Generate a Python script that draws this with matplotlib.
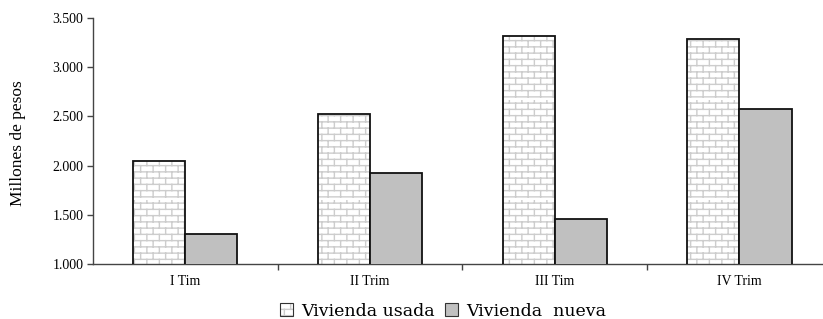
import warnings
import numpy as np
import matplotlib
matplotlib.use("Agg")
import matplotlib.pyplot as plt
import matplotlib.hatch as mhatch
from matplotlib.path import Path
from matplotlib.patches import Patch
from matplotlib.ticker import FuncFormatter, FixedLocator

warnings.filterwarnings("ignore")

# ---- data ----
categories = ["I Tim", "II Trim", "III Tim", "IV Trim"]
usada = [2050, 2525, 3320, 3290]
nueva = [1300, 1925, 1460, 2575]
series_names = ["Vivienda usada", "Vivienda  nueva"]
yticks = [1000, 1500, 2000, 2500, 3000, 3500]


# ---- custom brick hatch ----
class BrickHatch(mhatch.HatchPatternBase):
    rows = 16
    cols = 8

    def __init__(self, hatch, density):
        n = 1 if "b" in hatch else 0
        self.num_vertices = n * (self.rows * 2 + self.rows * self.cols * 2)

    def set_vertices_and_codes(self, vertices, codes):
        r, c = self.rows, self.cols
        i = 0
        for k in range(r):
            y = (k + 0.5) / r
            vertices[i] = (0.0, y); codes[i] = Path.MOVETO; i += 1
            vertices[i] = (1.0, y); codes[i] = Path.LINETO; i += 1
        for k in range(r):
            y0 = (k + 0.5) / r
            y1 = (k + 1.5) / r
            off = 0.5 * (k % 2)
            for j in range(c):
                x = (j + off + 0.25) / c
                vertices[i] = (x, y0); codes[i] = Path.MOVETO; i += 1
                vertices[i] = (x, y1); codes[i] = Path.LINETO; i += 1


mhatch._hatch_types.append(BrickHatch)
try:
    mhatch._validate_hatch_pattern = lambda h: None
except Exception:
    pass

plt.rcParams["hatch.linewidth"] = 1.0

W, H = 823, 319
fig = plt.figure(figsize=(W / 100, H / 100), dpi=100)
cat_w = 184.7
ax = fig.add_axes([93 / W, 55 / H, 4 * cat_w / W, (264 - 18) / H])

x = np.arange(len(categories))
bw = 0.282
hatch_col = "#cdcdcd"
edge = "#111111"

ax.bar(x - bw / 2, usada, bw, color="white", edgecolor=hatch_col,
       hatch="b", linewidth=0, zorder=2)
ax.bar(x - bw / 2, usada, bw, fill=False, edgecolor=edge, linewidth=1.3, zorder=3)
ax.bar(x + bw / 2, nueva, bw, color="#c0c0c0", edgecolor=edge, linewidth=1.3,
       zorder=3)

ax.set_xlim(-0.5, len(categories) - 0.5)
ax.set_ylim(yticks[0], yticks[-1])

for s in ["top", "right"]:
    ax.spines[s].set_visible(False)
for s in ["left", "bottom"]:
    ax.spines[s].set_color("#444444")
    ax.spines[s].set_linewidth(1.0)

ax.set_yticks(yticks)
ax.yaxis.set_major_formatter(FuncFormatter(lambda v, p: f"{int(v):,}".replace(",", ".")))
ax.tick_params(axis="y", direction="out", length=4, width=1.0, color="#444444",
               pad=3, labelsize=10)
ax.set_xticks(x)
ax.set_xticklabels(categories)
ax.tick_params(axis="x", which="major", length=0, pad=8, labelsize=10)
ax.xaxis.set_minor_locator(FixedLocator(x[:-1] + 0.5))
ax.tick_params(axis="x", which="minor", direction="out", length=4, width=1.0,
               color="#444444")
for lab in ax.get_xticklabels() + ax.get_yticklabels():
    lab.set_fontfamily("Liberation Serif")

fig.text(18 / W, 1 - 143 / H, "Millones de pesos", rotation=90, ha="center",
         va="center", fontsize=12.5, family="Liberation Serif")

h1 = Patch(facecolor="white", edgecolor=hatch_col, hatch="b", linewidth=0)
h1b = Patch(facecolor="none", edgecolor="#333333", linewidth=0.8)
h2 = Patch(facecolor="#c0c0c0", edgecolor="#333333", linewidth=0.8)
leg = fig.legend([(h1, h1b), h2], series_names, loc="center",
                 bbox_to_anchor=(443 / W, 8 / H), ncol=2, frameon=False,
                 prop={"family": "DejaVu Serif", "size": 12.5},
                 handlelength=0.75, handleheight=0.75, handletextpad=0.45,
                 columnspacing=0.6, borderpad=0, borderaxespad=0)

fig.savefig("out.png", dpi=100)
